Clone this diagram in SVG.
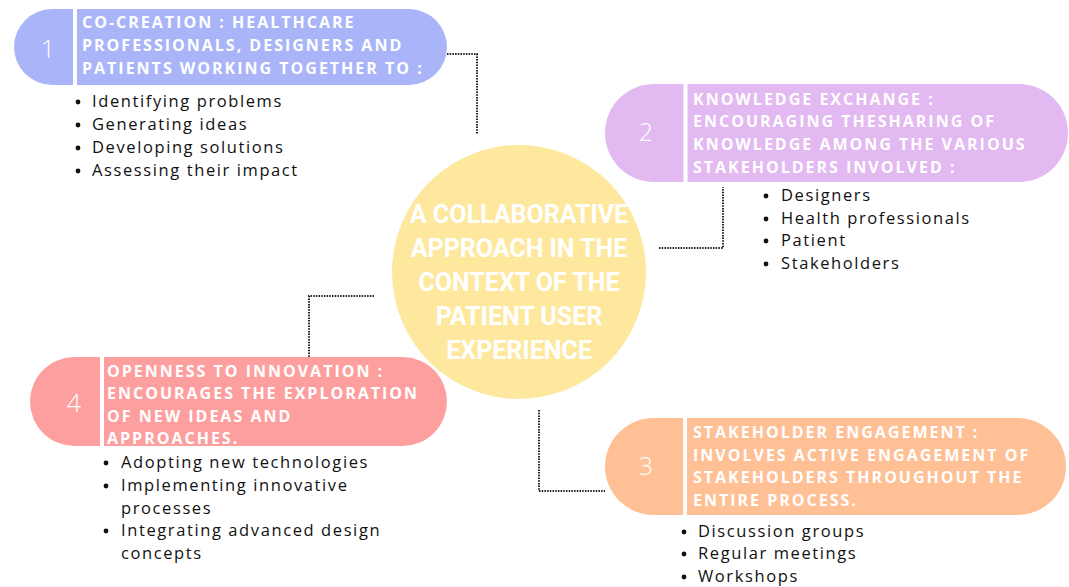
<svg xmlns="http://www.w3.org/2000/svg" width="1069" height="587" viewBox="0 0 1069 587">
<style>
.hd{font-family:"Open Sans","Liberation Sans",sans-serif;font-weight:700;font-size:16px;letter-spacing:2px;fill:#fff}
.num{font-family:"Open Sans","Liberation Sans",sans-serif;font-weight:300;font-size:25px;fill:#fff;text-anchor:middle}
.bl{font-family:"Open Sans","Liberation Sans",sans-serif;font-size:16.5px;letter-spacing:1.6px;fill:#111}
.dot{fill:#111}
.ctr{font-family:Roboto,"Liberation Sans",sans-serif;font-weight:700;font-size:25px;fill:#fff;text-anchor:middle}
.div{stroke:#fff;stroke-width:4}
.con{fill:none;stroke:#222;stroke-width:2;stroke-dasharray:1.5 1.2}
</style>
<rect width="1069" height="587" fill="#fff"/>
<g id="connectors">
<path class="con" d="M447 54H477V134"/>
<path class="con" d="M659 248H723V187"/>
<path class="con" d="M374 296H309V357"/>
<path class="con" d="M539 410V491H605"/>
</g>
<g id="center">
<circle cx="519" cy="272" r="127" fill="#fee89e"/>
<text class="ctr" x="519" y="223">A COLLABORATIVE</text>
<text class="ctr" x="519" y="257">APPROACH IN THE</text>
<text class="ctr" x="519" y="291">CONTEXT OF THE</text>
<text class="ctr" x="519" y="325">PATIENT USER</text>
<text class="ctr" x="519" y="359">EXPERIENCE</text>
</g>
<g id="node1">
<rect x="14" y="9" width="433" height="76" rx="38" fill="#a9b5f8"/>
<line class="div" x1="75" y1="9" x2="75" y2="85"/>
<text class="num" x="48" y="58">1</text>
<text class="hd" x="82" y="28">CO-CREATION : HEALTHCARE</text>
<text class="hd" x="82" y="51">PROFESSIONALS, DESIGNERS AND</text>
<text class="hd" x="82" y="74">PATIENTS WORKING TOGETHER TO :</text>
<g class="dot"><circle cx="78" cy="102" r="2.4"/><circle cx="78" cy="125" r="2.4"/><circle cx="78" cy="148" r="2.4"/><circle cx="78" cy="171" r="2.4"/></g>
<g class="bl">
<text x="92" y="107">Identifying problems</text>
<text x="92" y="130">Generating ideas</text>
<text x="92" y="153">Developing solutions</text>
<text x="92" y="176">Assessing their impact</text>
</g>
</g>
<g id="node2">
<rect x="605" y="84" width="463" height="98" rx="49" fill="#e3b9f1"/>
<line class="div" x1="685.5" y1="84" x2="685.5" y2="182"/>
<text class="num" x="646" y="141">2</text>
<text class="hd" x="693" y="105">KNOWLEDGE EXCHANGE :</text>
<text class="hd" x="693" y="127">ENCOURAGING THESHARING OF</text>
<text class="hd" x="693" y="150">KNOWLEDGE AMONG THE VARIOUS</text>
<text class="hd" x="693" y="173">STAKEHOLDERS INVOLVED :</text>
<g class="dot"><circle cx="766" cy="196" r="2.4"/><circle cx="766" cy="219" r="2.4"/><circle cx="766" cy="241" r="2.4"/><circle cx="766" cy="264" r="2.4"/></g>
<g class="bl">
<text x="781" y="201">Designers</text>
<text x="781" y="224">Health professionals</text>
<text x="781" y="246">Patient</text>
<text x="781" y="269">Stakeholders</text>
</g>
</g>
<g id="node3">
<rect x="605" y="418" width="461" height="97" rx="48.5" fill="#ffc096"/>
<line class="div" x1="685" y1="418" x2="685" y2="515"/>
<text class="num" x="646" y="475">3</text>
<text class="hd" x="693" y="438">STAKEHOLDER ENGAGEMENT :</text>
<text class="hd" x="693" y="461">INVOLVES ACTIVE ENGAGEMENT OF</text>
<text class="hd" x="693" y="483">STAKEHOLDERS THROUGHOUT THE</text>
<text class="hd" x="693" y="506">ENTIRE PROCESS.</text>
<g class="dot"><circle cx="684" cy="532" r="2.4"/><circle cx="684" cy="554" r="2.4"/><circle cx="684" cy="577" r="2.4"/></g>
<g class="bl">
<text x="698" y="537">Discussion groups</text>
<text x="698" y="559">Regular meetings</text>
<text x="698" y="582">Workshops</text>
</g>
</g>
<g id="node4">
<rect x="30" y="357" width="417" height="89" rx="44.5" fill="#fd9f9f"/>
<line class="div" x1="102" y1="357" x2="102" y2="446"/>
<text class="num" x="74" y="412">4</text>
<text class="hd" x="107" y="377">OPENNESS TO INNOVATION :</text>
<text class="hd" x="107" y="399">ENCOURAGES THE EXPLORATION</text>
<text class="hd" x="107" y="422">OF NEW IDEAS AND</text>
<text class="hd" x="107" y="444">APPROACHES.</text>
<g class="dot"><circle cx="106" cy="463" r="2.4"/><circle cx="106" cy="486" r="2.4"/><circle cx="106" cy="531" r="2.4"/></g>
<g class="bl">
<text x="121" y="468">Adopting new technologies</text>
<text x="121" y="491">Implementing innovative</text>
<text x="121" y="514">processes</text>
<text x="121" y="536">Integrating advanced design</text>
<text x="121" y="559">concepts</text>
</g>
</g>
</svg>
